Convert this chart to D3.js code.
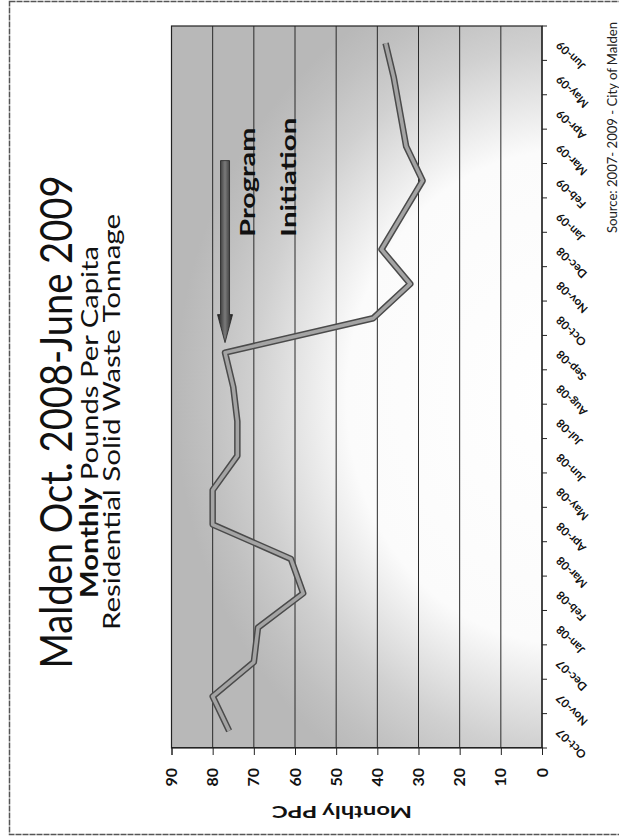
<!DOCTYPE html>
<html>
<head>
<meta charset="utf-8">
<script src="https://cdn.jsdelivr.net/npm/d3@7"></script>
<style>
  html, body { margin: 0; padding: 0; background: #fff; }
  svg { display: block; }
</style>
</head>
<body>
<script>
// Monthly residential solid waste, pounds per capita
const months = ["Oct-07","Nov-07","Dec-07","Jan-08","Feb-08","Mar-08","Apr-08","May-08","Jun-08",
                "Jul-08","Aug-08","Sep-08","Oct-08","Nov-08","Dec-08","Jan-09","Feb-09","Mar-09",
                "Apr-09","May-09","Jun-09"];
const ppc = [76, 80, 70, 69, 58, 61, 80, 80, 74, 74, 75, 77, 41, 32, 39, 34, 29, 33, 34.5, 36, 38];
const valueTicks = [0, 10, 20, 30, 40, 50, 60, 70, 80, 90];
const gridValues = [10, 20, 30, 40, 50, 60, 70, 80];
const programMonth = "Sep-08";
const titleMain = "Malden Oct. 2008-June 2009";
const titleBold = "Monthly";
const titleRest = " Pounds Per Capita";
const titleSub = "Residential Solid Waste Tonnage";
const annotation = ["Program", "Initiation"];
const axisTitle = "Monthly PPC";
const sourceNote = "Source: 2007- 2009 - City of Malden";

const W = 619, H = 837;
const font = "Lato, 'Open Sans', sans-serif";

const svg = d3.select("body").append("svg")
  .attr("width", W).attr("height", H);

// the chart is laid out in landscape, then turned a quarter turn onto the page
const plot = { left: 89, right: 811, top: 171.5, bottom: 542 };
const gcx = 440, gcy = 565, grx = 440, gry = 390;

const defs = svg.append("defs");
const bg = defs.append("radialGradient").attr("id", "plotBg")
  .attr("gradientUnits", "userSpaceOnUse")
  .attr("cx", 0).attr("cy", 0).attr("r", 1)
  .attr("gradientTransform", `translate(${gcx},${gcy}) scale(${grx},${gry})`);
[[0, "#ffffff"], [0.56, "#fbfbfb"], [0.8, "#d0d0d0"], [0.92, "#c0c0c0"], [1, "#b8b8b8"]].forEach(([o, c]) =>
  bg.append("stop").attr("offset", o).attr("stop-color", c));
const arrowGrad = defs.append("linearGradient").attr("id", "arrowFill")
  .attr("x1", 0).attr("y1", 0).attr("x2", 0).attr("y2", 1);
[[0, "#1e1e1e"], [0.5, "#7a7a7a"], [1, "#1e1e1e"]].forEach(([o, c]) =>
  arrowGrad.append("stop").attr("offset", o).attr("stop-color", c));

// page frame
svg.append("rect")
  .attr("x", 9.5).attr("y", 1.5).attr("width", W + 10).attr("height", 833)
  .attr("fill", "none").attr("stroke", "#555").attr("stroke-width", 1.5)
  .attr("stroke-dasharray", "6 1");

const g = svg.append("g").attr("transform", `translate(0,${H}) rotate(-90)`);

const x = d3.scaleBand().domain(months).range([plot.left, plot.right]);
const y = d3.scaleLinear().domain([0, 90]).range([plot.bottom, plot.top]);

// plot background
g.append("rect")
  .attr("x", plot.left).attr("y", plot.top)
  .attr("width", plot.right - plot.left).attr("height", plot.bottom - plot.top)
  .attr("fill", "url(#plotBg)");

// horizontal gridlines
g.append("g").selectAll("line").data(gridValues).join("line")
  .attr("x1", plot.left).attr("x2", plot.right)
  .attr("y1", d => y(d)).attr("y2", d => y(d))
  .attr("stroke", "#2a2a2a").attr("stroke-width", 1);

// plot frame
g.append("rect")
  .attr("x", plot.left).attr("y", plot.top)
  .attr("width", plot.right - plot.left).attr("height", plot.bottom - plot.top)
  .attr("fill", "none").attr("stroke", "#222").attr("stroke-width", 1.2);

// value axis
const yAxis = d3.axisLeft(y).tickValues(valueTicks).tickSize(7).tickPadding(13);
const yg = g.append("g").attr("transform", `translate(${plot.left},0)`).call(yAxis);
yg.select(".domain").attr("stroke", "#222");
yg.selectAll(".tick line").attr("stroke", "#222");
yg.selectAll(".tick text")
  .attr("font-family", font).attr("font-weight", "bold").attr("font-size", 16)
  .attr("fill", "#111");

// category axis: ticks sit on the band boundaries
const boundaries = months.map(m => x(m)).concat([x.range()[1]]);
g.append("line")
  .attr("x1", plot.left).attr("x2", plot.right)
  .attr("y1", plot.bottom).attr("y2", plot.bottom)
  .attr("stroke", "#222").attr("stroke-width", 1.2);
g.append("g").selectAll("line").data(boundaries).join("line")
  .attr("x1", d => d).attr("x2", d => d)
  .attr("y1", plot.bottom).attr("y2", plot.bottom + 5)
  .attr("stroke", "#222");
g.append("g").selectAll("text").data(months).join("text")
  .attr("transform", d => `translate(${x(d) + x.bandwidth() / 2 + 3},${plot.bottom + 19}) rotate(-45)`)
  .attr("text-anchor", "end")
  .attr("font-family", font).attr("font-weight", "bold").attr("font-size", 11.5)
  .attr("fill", "#111")
  .text(d => d);

// data line
const line = d3.line()
  .x((d, i) => x(months[i]) + x.bandwidth() / 2)
  .y(d => y(d));
g.append("path").datum(ppc)
  .attr("d", line).attr("fill", "none")
  .attr("stroke", "#4a4a4a").attr("stroke-width", 6.5).attr("stroke-linejoin", "round");
g.append("path").datum(ppc)
  .attr("d", line).attr("fill", "none")
  .attr("stroke", "#a4a4a4").attr("stroke-width", 3.5).attr("stroke-linejoin", "round");

// program initiation arrow, pointing at the month the program began
const pi = months.indexOf(programMonth);
const tipX = x(programMonth) + x.bandwidth() / 2 + 10;
const ay = y(ppc[pi]);
const tailX = tipX + 182, headLen = 28, shaftHalf = 4.5, headHalf = 7.5;
g.append("path")
  .attr("d", `M${tailX},${ay - shaftHalf} L${tipX + headLen},${ay - shaftHalf} L${tipX + headLen},${ay - headHalf}
              L${tipX},${ay} L${tipX + headLen},${ay + headHalf} L${tipX + headLen},${ay + shaftHalf}
              L${tailX},${ay + shaftHalf} Z`)
  .attr("fill", "url(#arrowFill)").attr("stroke", "#222").attr("stroke-width", 0.8);

// annotation
g.append("text").attr("x", tipX + 106).attr("y", 255)
  .attr("font-family", font).attr("font-weight", "bold").attr("font-size", 21)
  .attr("textLength", 109).attr("lengthAdjust", "spacingAndGlyphs")
  .attr("fill", "#111").text(annotation[0]);
g.append("text").attr("x", tipX + 106).attr("y", 296)
  .attr("font-family", font).attr("font-weight", "bold").attr("font-size", 21)
  .attr("textLength", 119).attr("lengthAdjust", "spacingAndGlyphs")
  .attr("fill", "#111").text(annotation[1]);

// titles
const tcx = 415;
g.append("text").attr("x", tcx).attr("y", 71.5).attr("text-anchor", "middle")
  .attr("font-family", font).attr("font-size", 44).attr("fill", "#111")
  .attr("textLength", 493).attr("lengthAdjust", "spacingAndGlyphs")
  .text(titleMain);
const t2 = g.append("text").attr("x", tcx).attr("y", 97.5).attr("text-anchor", "middle")
  .attr("font-family", font).attr("font-size", 24).attr("fill", "#111")
  .attr("textLength", 352).attr("lengthAdjust", "spacingAndGlyphs");
t2.append("tspan").attr("font-weight", "bold").text(titleBold);
t2.append("tspan").text(titleRest);
g.append("text").attr("x", tcx).attr("y", 120).attr("text-anchor", "middle")
  .attr("font-family", font).attr("font-size", 24).attr("fill", "#111")
  .attr("textLength", 416).attr("lengthAdjust", "spacingAndGlyphs")
  .text(titleSub);

// value axis title
g.append("text")
  .attr("transform", `translate(31,342) rotate(-90)`)
  .attr("text-anchor", "middle")
  .attr("font-family", font).attr("font-weight", "bold").attr("font-size", 17)
  .attr("textLength", 140).attr("lengthAdjust", "spacingAndGlyphs")
  .attr("fill", "#111").text(axisTitle);

// source note along the edge
g.append("text").attr("x", 604).attr("y", 617)
  .attr("font-family", font).attr("font-size", 13).attr("fill", "#222")
  .attr("textLength", 211).attr("lengthAdjust", "spacingAndGlyphs")
  .text(sourceNote);
</script>
</body>
</html>
